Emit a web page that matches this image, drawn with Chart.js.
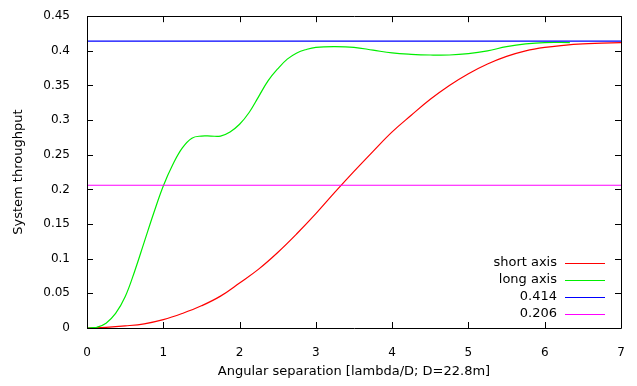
<!DOCTYPE html>
<html>
<head>
<meta charset="utf-8">
<script src="https://cdn.jsdelivr.net/npm/chart.js@4.4.0/dist/chart.umd.min.js"></script>
<style>
  html, body { margin: 0; padding: 0; background: #fff; }
</style>
</head>
<body>
<canvas id="myChart" width="637" height="386"></canvas>
<script>
// throughput vs angular separation
var xShort = [0, 0.25, 0.5, 0.75, 1.0, 1.25, 1.5, 1.75, 2.0, 2.25, 2.5, 2.75, 3.0, 3.25, 3.5, 3.75, 4.0, 4.25, 4.5, 4.75, 5.0, 5.25, 5.5, 5.75, 6.0, 6.25, 6.5, 6.75, 7.0];
var yShort = [0, 0.001, 0.003, 0.006, 0.012, 0.021, 0.032, 0.046, 0.065, 0.085, 0.109, 0.136, 0.165, 0.196, 0.226, 0.255, 0.283, 0.307, 0.330, 0.350, 0.367, 0.381, 0.392, 0.400, 0.405, 0.408, 0.410, 0.411, 0.412];

var xLong = [0, 0.125, 0.25, 0.375, 0.5, 0.625, 0.75, 0.875, 1.0, 1.125, 1.25, 1.375, 1.5, 1.625, 1.75, 1.875, 2.0, 2.125, 2.25, 2.375, 2.5, 2.625, 2.75, 2.875, 3.0, 3.25, 3.5, 3.75, 4.0, 4.25, 4.5, 4.75, 5.0, 5.25, 5.5, 5.75, 6.0, 6.33];
var yLong = [0, 0.001, 0.007, 0.021, 0.045, 0.082, 0.124, 0.166, 0.205, 0.236, 0.260, 0.274, 0.277, 0.277, 0.277, 0.283, 0.294, 0.311, 0.334, 0.357, 0.374, 0.388, 0.397, 0.402, 0.405, 0.406, 0.405, 0.401, 0.397, 0.395, 0.394, 0.394, 0.396, 0.400, 0.406, 0.410, 0.412, 0.412];

var xRef = [0, 7];
var yRef414 = [0.414, 0.414];
var yRef206 = [0.206, 0.206];

var xTicks = [0, 1, 2, 3, 4, 5, 6, 7];
var yTicks = [0, 0.05, 0.1, 0.15, 0.2, 0.25, 0.3, 0.35, 0.4, 0.45];

function pts(xs, ys) {
  return xs.map(function (x, i) { return { x: x, y: ys[i] }; });
}

var FONT = "'DejaVu Sans', sans-serif";

// gnuplot style frame: box + inward ticks on all sides
var framePlugin = {
  id: 'frame',
  afterDatasetsDraw: function (chart) {
    var c = chart.ctx, a = chart.chartArea;
    var xs = chart.scales.x, ys = chart.scales.y;
    c.save();
    c.strokeStyle = '#000';
    c.lineWidth = 1;
    c.beginPath();
    c.rect(Math.round(a.left) + 0.5, Math.round(a.top) + 0.5, Math.round(a.right - a.left), Math.round(a.bottom - a.top));
    xTicks.forEach(function (v) {
      var px = Math.round(xs.getPixelForValue(v)) + 0.5;
      c.moveTo(px, a.bottom); c.lineTo(px, a.bottom - 6);
      c.moveTo(px, a.top); c.lineTo(px, a.top + 6);
    });
    yTicks.forEach(function (v) {
      var py = Math.round(ys.getPixelForValue(v)) + 0.5;
      c.moveTo(a.left, py); c.lineTo(a.left + 6, py);
      c.moveTo(a.right, py); c.lineTo(a.right - 6, py);
    });
    c.stroke();
    c.restore();
  },
  afterDraw: function (chart) {
    // legend inside bottom right: label then line sample
    var c = chart.ctx;
    c.save();
    c.font = '13px ' + FONT;
    c.textAlign = 'right';
    c.textBaseline = 'middle';
    chart.data.datasets.forEach(function (ds, i) {
      var y = 263 + i * 17;
      c.fillStyle = '#000';
      c.fillText(ds.label, 557, y);
      c.strokeStyle = ds.borderColor;
      c.lineWidth = 1;
      c.beginPath();
      c.moveTo(565, y + 0.5); c.lineTo(605, y + 0.5);
      c.stroke();
    });
    c.restore();
  }
};

var ctx = document.getElementById('myChart').getContext('2d');
var chart = new Chart(ctx, {
  type: 'line',
  data: {
    datasets: [
      { label: 'short axis', data: pts(xShort, yShort), borderColor: '#ff0000', order: 4 },
      { label: 'long axis', data: pts(xLong, yLong), borderColor: '#00ee00', order: 3 },
      { label: '0.414', data: pts(xRef, yRef414), borderColor: '#0000ff', order: 2, tension: 0 },
      { label: '0.206', data: pts(xRef, yRef206), borderColor: '#ff00ff', order: 1, tension: 0 }
    ]
  },
  options: {
    responsive: false,
    animation: false,
    layout: { padding: { left: 0, right: 16, top: 15, bottom: 0 } },
    elements: {
      point: { radius: 0 },
      line: { borderWidth: 1.2, tension: 0.4, fill: false }
    },
    plugins: {
      legend: { display: false },
      tooltip: { enabled: false }
    },
    scales: {
      x: {
        type: 'linear',
        min: 0, max: 7,
        grid: { display: false },
        border: { display: false },
        afterFit: function (s) { s.height = 58; },
        afterBuildTicks: function (s) { s.ticks = xTicks.map(function (v) { return { value: v }; }); },
        ticks: { padding: 10, color: '#000', font: { family: FONT, size: 12 }, maxRotation: 0 },
        title: { display: true, text: 'Angular separation [lambda/D; D=22.8m]', color: '#000', font: { family: FONT, size: 13 }, padding: { top: 0, bottom: 7 } }
      },
      y: {
        min: 0, max: 0.45,
        grid: { display: false },
        border: { display: false },
        afterFit: function (s) { s.width = 87; },
        afterBuildTicks: function (s) { s.ticks = yTicks.map(function (v) { return { value: v }; }); },
        ticks: {
          padding: 9, color: '#000', font: { family: FONT, size: 12 },
          callback: function (v) { return String(+v.toFixed(2)); }
        },
        title: { display: true, text: 'System throughput', color: '#000', font: { family: FONT, size: 13 }, padding: { top: 11, bottom: 0 } }
      }
    }
  },
  plugins: [framePlugin]
});
</script>
</body>
</html>
